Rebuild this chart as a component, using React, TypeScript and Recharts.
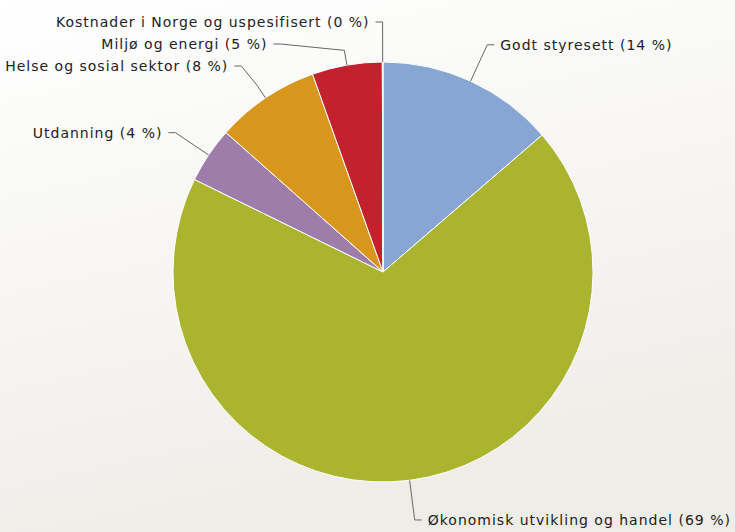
import * as React from 'react';
import { PieChart, Pie, Cell } from 'recharts';

const categories = [
  'Godt styresett',
  'Økonomisk utvikling og handel',
  'Utdanning',
  'Helse og sosial sektor',
  'Miljø og energi',
  'Kostnader i Norge og uspesifisert',
];
const shares = [13.7, 68.6, 4.3, 8.0, 5.4, 0.05];
const shareLabels = ['14 %', '69 %', '4 %', '8 %', '5 %', '0 %'];
const colors = ['#87a6d3', '#aab42e', '#9e7dab', '#d8961d', '#c1222d', '#8c8c8c'];

const W = 735;
const H = 532;
const CX = 383;
const CY = 272;
const RADIUS = 210;
const LABEL_R = 250;
const TOP = 20;
const GAP = 22;

const data = categories.map((name, i) => ({ name, value: shares[i], pct: shareLabels[i] }));

// label placement, highcharts style: on a circle, pushed apart on each side
function placeLabels() {
  const total = shares.reduce((a, b) => a + b, 0);
  let acc = 0;
  const items = shares.map((v, i) => {
    const mid = (acc + v / 2) / total;
    acc += v;
    const t = mid * Math.PI * 2;
    return { i, side: Math.sin(t) >= 0 ? 1 : -1, y: CY - LABEL_R * Math.cos(t), x: 0 };
  });
  [1, -1].forEach((side) => {
    const list = items.filter((d) => d.side === side).sort((a, b) => a.y - b.y);
    let prev = -Infinity;
    list.forEach((d) => {
      d.y = Math.max(d.y, TOP, prev + GAP);
      prev = d.y;
    });
  });
  items.forEach((d) => {
    const dy = d.y - CY;
    const dx = Math.abs(dy) >= LABEL_R ? 0 : Math.sqrt(LABEL_R * LABEL_R - dy * dy);
    d.x = CX + d.side * dx;
  });
  const out: { x: number; y: number; side: number }[] = [];
  items.forEach((d) => (out[d.i] = d));
  return out;
}

const labelPos = placeLabels();

const renderLabel = (props: any) => {
  const { cx, cy, midAngle, outerRadius, index } = props;
  const rad = (-midAngle * Math.PI) / 180;
  const ex = cx + outerRadius * Math.cos(rad);
  const ey = cy + outerRadius * Math.sin(rad);
  const bx = cx + (outerRadius + 15) * Math.cos(rad);
  const by = cy + (outerRadius + 15) * Math.sin(rad);
  const p = labelPos[index];
  const hx = p.x + p.side * 7;
  return (
    <g key={'lbl' + index}>
      <path
        d={`M${hx},${p.y} L${p.x},${p.y} L${bx},${by} L${ex},${ey}`}
        fill="none"
        stroke="#666"
        strokeWidth={1}
      />
      <text
        x={p.x + p.side * 13}
        y={p.y}
        dy={5}
        textAnchor={p.side > 0 ? 'start' : 'end'}
        fill="#222"
        fontSize={14}
        letterSpacing={1}
        fontFamily="DejaVu Sans, sans-serif"
      >
        {`${categories[index]} (${shareLabels[index]})`}
      </text>
    </g>
  );
};

export default function App() {
  return (
    <div style={{ position: 'absolute', left: 0, top: 0, width: W, height: H }}>
      <PieChart width={W} height={H} margin={{ top: 0, right: 0, bottom: 0, left: 0 }}>
        <defs>
          <linearGradient id="bg" x1="0" y1="0" x2="0.3" y2="1">
            <stop offset="0%" stopColor="#ffffff" />
            <stop offset="100%" stopColor="#efede8" />
          </linearGradient>
        </defs>
        <rect x={0} y={0} width={W} height={H} fill="url(#bg)" />
        <Pie
          data={data}
          dataKey="value"
          nameKey="name"
          cx={CX}
          cy={CY}
          outerRadius={RADIUS}
          startAngle={90}
          endAngle={-270}
          stroke="#ffffff"
          strokeWidth={1}
          label={renderLabel}
          labelLine={false}
          isAnimationActive={false}
        >
          {data.map((d, i) => (
            <Cell key={d.name} fill={colors[i]} />
          ))}
        </Pie>
      </PieChart>
    </div>
  );
}
